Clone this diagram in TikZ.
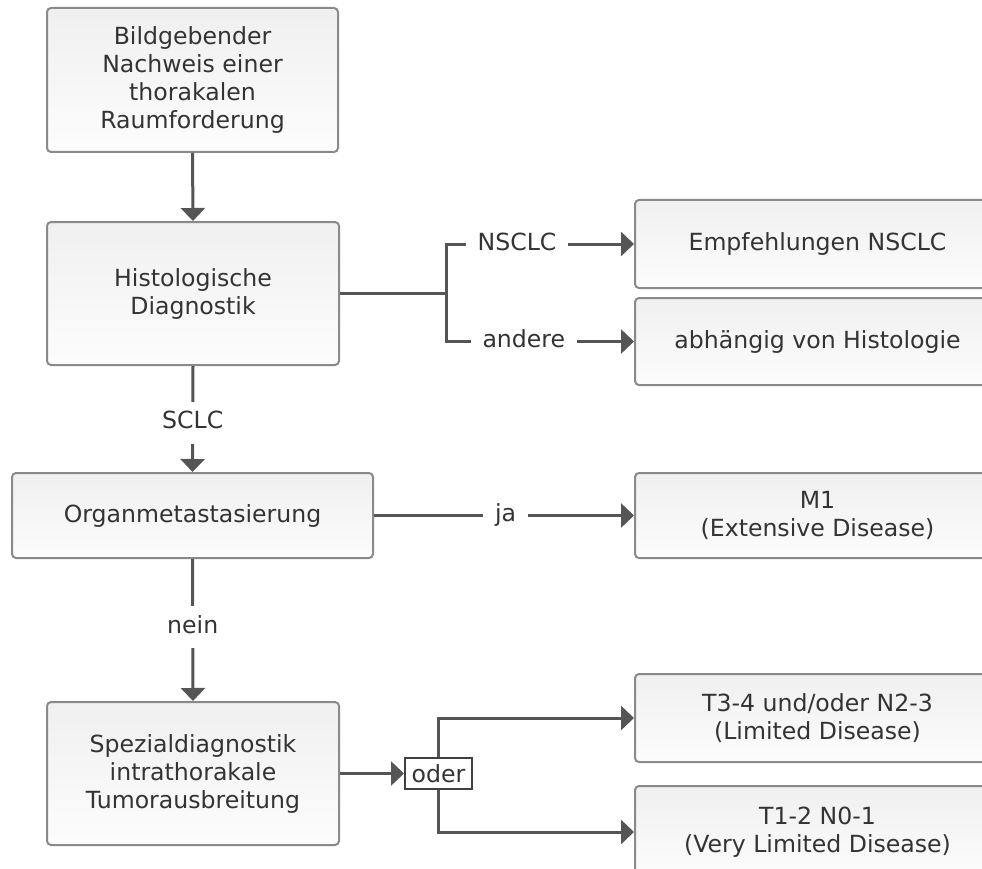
\documentclass[tikz,border=0pt]{standalone}
\usepackage{fontspec}
\setmainfont{DejaVu Sans}
\usetikzlibrary{arrows.meta}
\definecolor{linec}{HTML}{555555}
\definecolor{boxborder}{HTML}{8A8A8A}
\definecolor{txt}{HTML}{333333}
\begin{document}
\begin{tikzpicture}[x=1pt,y=-1pt,
  txtfont/.style={font=\fontsize{23.6}{28}\selectfont},
  box/.style={draw=boxborder, line width=2pt, rounded corners=4pt,
    top color=black!6, bottom color=black!1, text=txt, align=center,
    inner sep=0pt, txtfont},
  conn/.style={draw=linec, line width=3pt},
  arr/.style={conn, -{Triangle[length=13pt,width=24pt]}},
  lbl/.style={fill=white, text=txt, txtfont, inner xsep=12pt, inner ysep=10pt,
    text height=17pt, text depth=5pt},
  oderbox/.style={draw=black!75, line width=2pt, fill=white, minimum width=67pt,
    minimum height=31pt, inner sep=0pt, text=txt, txtfont}
]
\useasboundingbox (0,0) rectangle (982,869);

\node[box, minimum width=291pt, minimum height=144pt] (bild) at (192.5,80)
  {Bildgebender\\Nachweis einer\\thorakalen\\Raumforderung};
\node[box, minimum width=292pt, minimum height=143pt] (hist) at (193,293.5)
  {Histologische\\Diagnostik};
\node[box, minimum width=361pt, minimum height=85pt] (organ) at (192.5,515.5)
  {Organmetastasierung};
\node[box, minimum width=292pt, minimum height=143pt] (spez) at (193,773.5)
  {Spezialdiagnostik\\intrathorakale\\Tumorausbreitung};

\node[box, minimum width=365pt, minimum height=88pt] (empf) at (817.5,244)
  {Empfehlungen NSCLC};
\node[box, minimum width=365pt, minimum height=87pt] (abh) at (817.5,341.5)
  {abhängig von Histologie};
\node[box, minimum width=365pt, minimum height=85pt] (m1) at (817.5,515.5)
  {M1\\(Extensive Disease)};
\node[box, minimum width=365pt, minimum height=88pt] (t34) at (817.5,718)
  {T3-4 und/oder N2-3\\(Limited Disease)};
\node[box, minimum width=365pt, minimum height=92pt] (t12) at (817.5,832)
  {T1-2 N0-1\\(Very Limited Disease)};

\node[oderbox] (oder) at (438.5,773.5) {oder};

\draw[arr] (bild.south) -- (hist.north);
\coordinate (split) at ([xshift=106pt]hist.east);
\draw[conn] (hist.east) -- (split);
\draw[arr] (split) |- (empf.west) node[lbl,pos=0.689] {NSCLC};
\draw[arr] (split) |- (abh.west) node[lbl,pos=0.707] {andere};
\draw[arr] (hist.south) -- (organ.north) node[lbl,pos=0.537] {SCLC};
\draw[arr] (organ.east) -- (m1.west) node[lbl,pos=0.506] {ja};
\draw[arr] (organ.south) -- (spez.north) node[lbl,pos=0.48] {nein};
\draw[arr] (spez.east) -- (oder.west);
\draw[arr] (oder.north) |- (t34.west);
\draw[arr] (oder.south) |- (t12.west);
\end{tikzpicture}
\end{document}
